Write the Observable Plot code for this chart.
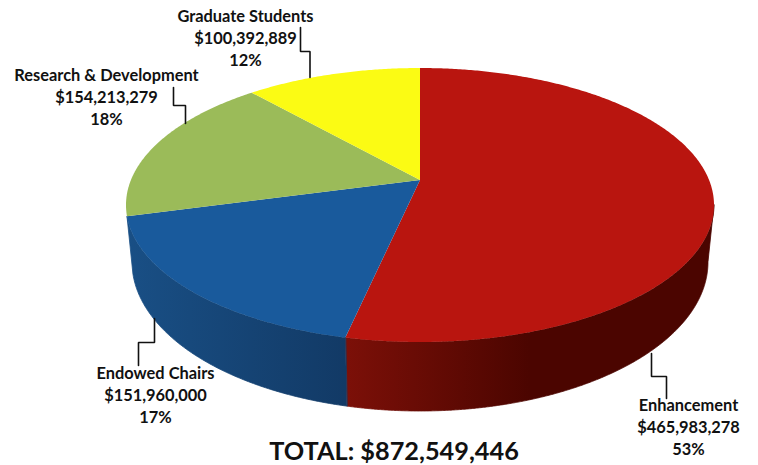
<!DOCTYPE html>
<html>
<head>
<meta charset="utf-8">
<script src="https://cdn.jsdelivr.net/npm/d3@7"></script>
<script src="https://cdn.jsdelivr.net/npm/@observablehq/plot@0.6"></script>
<style>
  html, body { margin: 0; padding: 0; background: #fff; }
  svg { display: block; }
</style>
</head>
<body>
<div id="chart"></div>
<script>
// Data, clockwise from twelve o'clock
const categories = ["Enhancement", "Endowed Chairs", "Research & Development", "Graduate Students"];
const amounts = [465983278, 151960000, 154213279, 100392889];

// Styling
const topColors = ["#B9150F", "#195A9C", "#9BBB59", "#FBFB14"];
const wallColors = [
  [[345, "#7C1008"], [530, "#4B0500"], [715, "#4B0500"]],
  [[127, "#194F85"], [345, "#123A66"]],
  null,
  null
];

// Perspective frame of the pie (in screen-sized scale units)
const W = 758, H = 465;
const rim = {cx: 420, cy: 205, rx: 294, ry: 137};
const base = {cx: 420, cy: 262, rx: 288, ry: 149};
const tilt = 0.182;

// Annotation layout
const labelAt = [[688, 405], [155, 373], [106, 75], [245, 16]];
const leaderPaths = [
  [[651, 353], [651, 376], [666, 376], [666, 398]],
  [[154, 318], [154, 342], [138, 342], [138, 365]],
  [[185, 123], [185, 105], [173, 105], [173, 87]],
  [[309.5, 77], [309.5, 51], [300, 51], [300, 27]]
];
const totalAt = [393.5, 451];

const total = d3.sum(amounts);
const fmtMoney = d3.format("$,");
const fmtPct = d3.format(".0%");

// A point on the projected circle: frac = fraction of the whole turn
function project(frac, e) {
  const th = frac * 2 * Math.PI;
  const px = Math.sin(th), py = -Math.cos(th);
  const d = 1 - tilt * py;
  return [e.cx + e.rx * px * Math.sqrt(1 - tilt * tilt) / d,
          e.cy + e.ry * (py - tilt) / d];
}
const apex = [rim.cx, rim.cy - tilt * rim.ry];

// Where an outline reaches furthest right within a slice: the wall's silhouette starts there
function wallStart(s, e) {
  const samples = d3.range(0, 401).map(k => s.start + (s.end - s.start) * k / 400);
  const best = d3.greatest(samples, f => project(f, e)[0]);
  return best > s.start && best < s.end ? best : s.start;
}

let cum = 0;
const slices = amounts.map((v, i) => {
  const s = {name: categories[i], value: v, start: cum / total, end: (cum + v) / total, i};
  cum += v;
  return s;
});

const faces = [];
const walls = [];
slices.forEach(s => {
  const n = Math.max(8, Math.ceil((s.end - s.start) * 720));
  const rimFrom = wallStart(s, rim), baseFrom = wallStart(s, base);
  for (let k = 0; k <= n; k++) {
    const t = k / n;
    const p = project(s.start + (s.end - s.start) * t, rim);
    faces.push({slice: s.name, fill: topColors[s.i], x1: apex[0], y1: apex[1], x2: p[0], y2: p[1]});
    if (wallColors[s.i]) {
      const r = project(rimFrom + (s.end - rimFrom) * t, rim);
      const b = project(baseFrom + (s.end - baseFrom) * t, base);
      walls.push({i: s.i, x1: r[0], y1: r[1], x2: b[0], y2: b[1]});
    }
  }
});

// Horizontal shading of the walls, placed through the x scale
function wallGradients(index, {x}) {
  const defs = d3.create("svg:defs");
  wallColors.forEach((stops, i) => {
    if (!stops) return;
    const g = defs.append("linearGradient")
      .attr("id", `wall-${i}`)
      .attr("gradientUnits", "userSpaceOnUse")
      .attr("x1", x(stops[0][0])).attr("x2", x(stops[stops.length - 1][0]))
      .attr("y1", 0).attr("y2", 0);
    const span = stops[stops.length - 1][0] - stops[0][0];
    stops.forEach(([at, c]) => g.append("stop")
      .attr("offset", (at - stops[0][0]) / span)
      .attr("stop-color", c));
  });
  return defs.node();
}

const labels = slices.map(s => ({
  text: `${s.name}\n${fmtMoney(s.value)}\n${fmtPct(s.value / total)}`,
  x: labelAt[s.i][0], y: labelAt[s.i][1]
}));
const leaders = leaderPaths.flatMap((path, i) => path.map(p => ({i, x: p[0], y: p[1]})));

const chart = Plot.plot({
  width: W, height: H,
  margin: 0,
  x: {domain: [0, W], range: [0, W], axis: null},
  y: {domain: [0, H], range: [0, H], axis: null},
  style: {background: "#fff"},
  marks: [
    wallGradients,
    ...wallColors.map((stops, i) => stops
      ? Plot.area(walls.filter(d => d.i === i), {
          x1: "x1", y1: "y1", x2: "x2", y2: "y2",
          fill: `url(#wall-${i})`, stroke: `url(#wall-${i})`, strokeWidth: 0.8
        })
      : null),
    Plot.area(faces, {x1: "x1", y1: "y1", x2: "x2", y2: "y2", z: "slice", fill: "fill"}),
    Plot.line(leaders, {x: "x", y: "y", z: "i", stroke: "#111", strokeWidth: 1.6, curve: "linear", strokeLinejoin: "miter"}),
    Plot.text(labels, {
      x: "x", y: "y", text: "text", lineAnchor: "top", lineHeight: 1.34, dy: -10,
      fontFamily: "Lato", fontWeight: 700, fontSize: 16.4, fill: "#111"
    }),
    Plot.text([`TOTAL: ${fmtMoney(total)}`], {
      x: () => totalAt[0], y: () => totalAt[1], text: d => d,
      fontFamily: "Lato", fontWeight: 700, fontSize: 25.3, fill: "#111"
    })
  ]
});
document.getElementById("chart").append(chart);
</script>
</body>
</html>
